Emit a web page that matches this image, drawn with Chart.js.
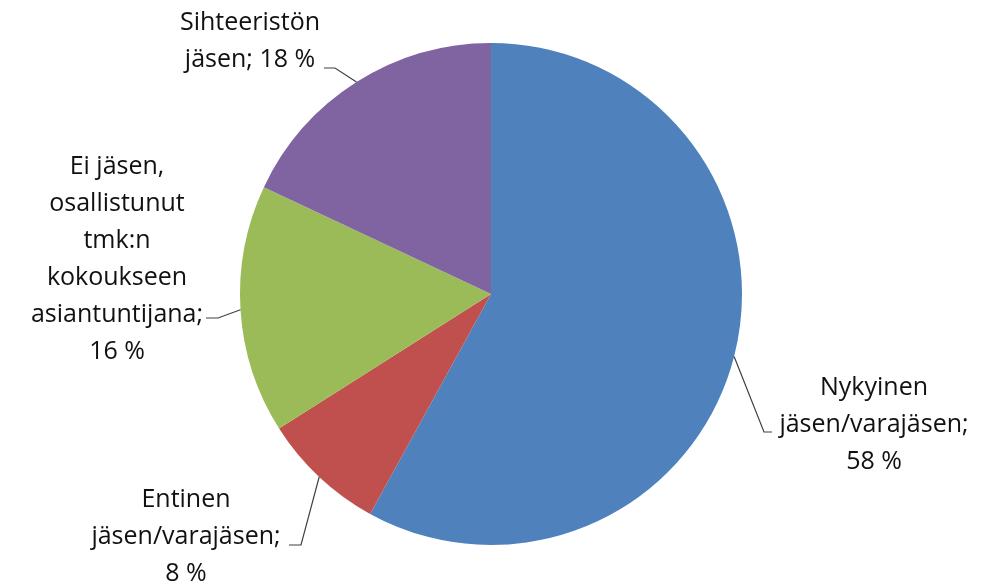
<!DOCTYPE html>
<html>
<head>
<meta charset="utf-8">
<script src="https://cdn.jsdelivr.net/npm/chart.js@4.4.1/dist/chart.umd.min.js"></script>
<style>
  html, body { margin: 0; padding: 0; background: #fff; }
  #wrap { width: 994px; height: 584px; }
</style>
</head>
<body>
<div id="wrap"><canvas id="pieChart" width="994" height="584"></canvas></div>
<script>
// Data
const categories = [
    ['Nykyinen', 'jäsen/varajäsen'],
    ['Entinen', 'jäsen/varajäsen'],
    ['Ei jäsen,', 'osallistunut', 'tmk:n', 'kokoukseen', 'asiantuntijana'],
    ['Sihteeristön', 'jäsen']
];
const shares = [58, 8, 16, 18];
const colors = ['#4F81BD', '#C0504D', '#9BBB59', '#8064A2'];

// Where each label sits and how its leader line bends (x, y of text centre / first line)
const labelLayout = [
    { x: 874, y: 388, pctInline: false, elbow: [[764, 432], [772, 432]] },
    { x: 186, y: 500, pctInline: false, elbow: [[301, 545], [289, 545]] },
    { x: 117, y: 167, pctInline: false, elbow: [[218, 318], [206, 318]] },
    { x: 250, y: 23,  pctInline: true,  elbow: [[335, 68], [324, 68]] }
];

const FONT = '25px "Open Sans", sans-serif';
const LINE_H = 37;

const leaderLabels = {
    id: 'leaderLabels',
    afterDatasetsDraw(chart) {
        const ctx = chart.ctx;
        const meta = chart.getDatasetMeta(0);
        ctx.save();
        meta.data.forEach((arc, i) => {
            const lay = labelLayout[i];
            const mid = (arc.startAngle + arc.endAngle) / 2;
            const sx = arc.x + Math.cos(mid) * arc.outerRadius;
            const sy = arc.y + Math.sin(mid) * arc.outerRadius;

            // leader line
            ctx.strokeStyle = '#404040';
            ctx.lineWidth = 1.2;
            ctx.beginPath();
            ctx.moveTo(sx, sy);
            lay.elbow.forEach(p => ctx.lineTo(p[0], p[1]));
            ctx.stroke();

            // label text
            const pct = shares[i] + ' %';
            const lines = categories[i].slice();
            if (lay.pctInline) {
                lines[lines.length - 1] += '; ' + pct;
            } else {
                lines[lines.length - 1] += ';';
                lines.push(pct);
            }
            ctx.fillStyle = '#111';
            ctx.font = FONT;
            ctx.textAlign = 'center';
            ctx.textBaseline = 'middle';
            lines.forEach((t, k) => ctx.fillText(t, lay.x, lay.y + k * LINE_H));
        });
        ctx.restore();
    }
};

const ctx = document.getElementById('pieChart').getContext('2d');
const pieChart = new Chart(ctx, {
    type: 'pie',
    data: {
        labels: categories,
        datasets: [{
            data: shares,
            backgroundColor: colors,
            borderWidth: 0
        }]
    },
    options: {
        responsive: false,
        animation: false,
        rotation: 0,
        layout: {
            padding: { left: 240, right: 252, top: 43, bottom: 39 }
        },
        plugins: {
            legend: { display: false },
            tooltip: { enabled: false }
        }
    },
    plugins: [leaderLabels]
});
</script>
</body>
</html>
